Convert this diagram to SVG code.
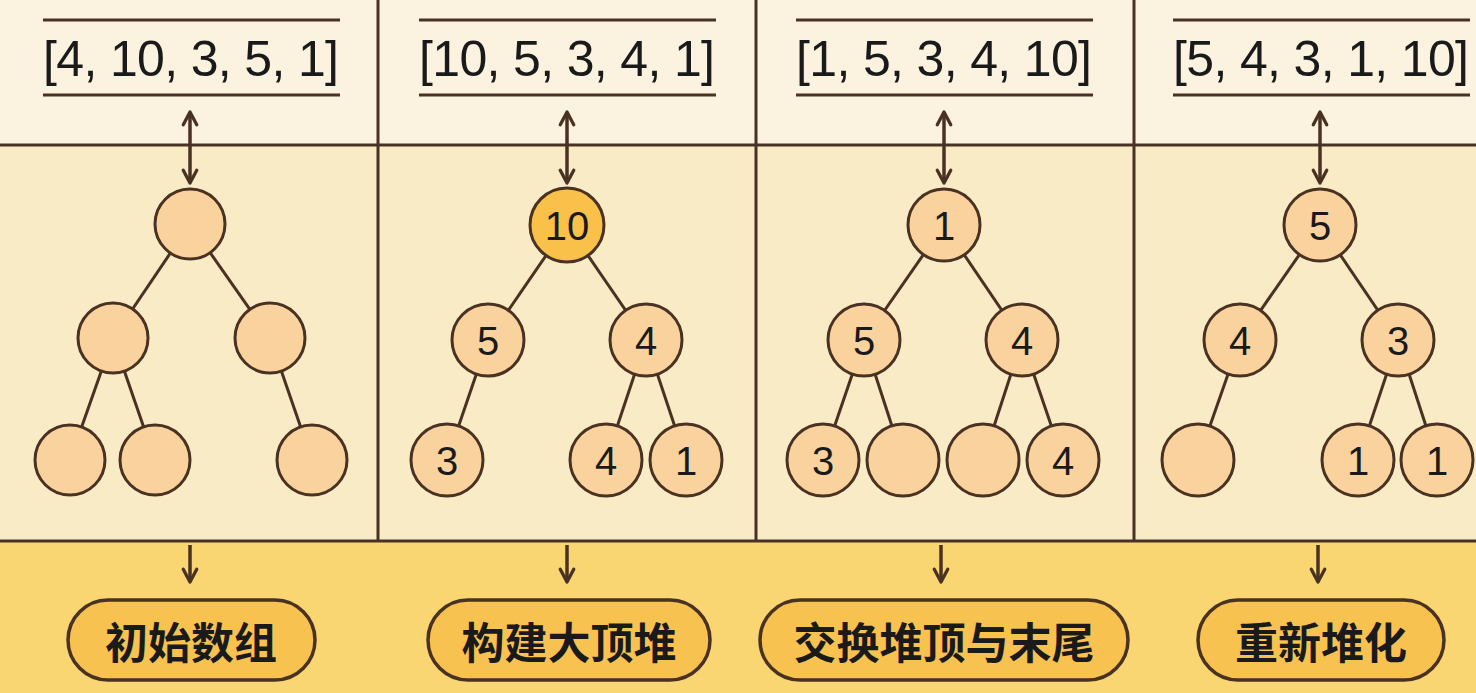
<svg xmlns="http://www.w3.org/2000/svg" width="1476" height="693" viewBox="0 0 1476 693">
<defs>
<marker id="ah" viewBox="0 0 12 12" refX="10" refY="6" markerWidth="18" markerHeight="18" markerUnits="userSpaceOnUse" orient="auto-start-reverse"><path d="M1.5,1.5 L10,6 L1.5,10.5" fill="none" stroke="#4a3222" stroke-width="2.2" stroke-linecap="round" stroke-linejoin="round"/></marker>
</defs>
<style>
.ln{stroke:#4a3222;stroke-width:3;fill:none}
.ar{stroke:#4a3222;stroke-width:3.5;fill:none;marker-end:url(#ah)}
.da{stroke:#4a3222;stroke-width:3.5;fill:none;marker-end:url(#ah);marker-start:url(#ah)}
.n{fill:#f9d29e;stroke:#4a3222;stroke-width:3}
.top{fill:#f9c04a;stroke:#4a3222;stroke-width:3}
.t{font-family:"Liberation Sans","Noto Sans",sans-serif;font-size:40px;fill:#1a1a1a;text-anchor:middle;dominant-baseline:central}
.arr{font-family:"Liberation Sans","Noto Sans",sans-serif;font-size:50px;fill:#1a1a1a;text-anchor:middle}
.pill{fill:#f8c250;stroke:#4a3222;stroke-width:3.5}
.pt{font-family:"Noto Sans CJK SC",sans-serif;font-weight:bold;font-size:43px;fill:#1a1a1a;text-anchor:middle;dominant-baseline:central}
</style>
<rect x="0" y="0" width="1476" height="145" fill="#fbf3e0"/>
<rect x="0" y="145" width="1476" height="396" fill="#f8ebc6"/>
<rect x="0" y="541" width="1476" height="152" fill="#f9d672"/>
<g id="grid" class="ln">
<line x1="0" y1="145" x2="1476" y2="145"/><line x1="0" y1="541" x2="1476" y2="541"/>
<line x1="378" y1="0" x2="378" y2="541"/><line x1="756" y1="0" x2="756" y2="541"/><line x1="1134" y1="0" x2="1134" y2="541"/>
</g>
<g id="arrays">
<g class="ln"><line x1="43" y1="20" x2="340" y2="20"/><line x1="43" y1="95" x2="340" y2="95"/>
<line x1="419" y1="20" x2="716" y2="20"/><line x1="419" y1="95" x2="716" y2="95"/>
<line x1="796" y1="20" x2="1093" y2="20"/><line x1="796" y1="95" x2="1093" y2="95"/>
<line x1="1173" y1="20" x2="1470" y2="20"/><line x1="1173" y1="95" x2="1470" y2="95"/></g>
<text class="arr" x="191" y="76" textLength="296" lengthAdjust="spacing">[4, 10, 3, 5, 1]</text>
<text class="arr" x="567" y="76" textLength="296" lengthAdjust="spacing">[10, 5, 3, 4, 1]</text>
<text class="arr" x="944" y="76" textLength="296" lengthAdjust="spacing">[1, 5, 3, 4, 10]</text>
<text class="arr" x="1321" y="76" textLength="296" lengthAdjust="spacing">[5, 4, 3, 1, 10]</text>
</g>
<g id="connectors">
<line class="da" x1="190" y1="112" x2="190" y2="183"/>
<line class="da" x1="567" y1="112" x2="567" y2="183"/>
<line class="da" x1="944" y1="112" x2="944" y2="183"/>
<line class="da" x1="1320" y1="112" x2="1320" y2="183"/>
<line class="ar" x1="190" y1="545" x2="190" y2="582"/>
<line class="ar" x1="567" y1="545" x2="567" y2="582"/>
<line class="ar" x1="941" y1="545" x2="941" y2="582"/>
<line class="ar" x1="1318" y1="545" x2="1318" y2="582"/>
<g class="ln">
<line x1="190" y1="224" x2="113" y2="338"/><line x1="190" y1="224" x2="270" y2="338"/>
<line x1="113" y1="338" x2="70" y2="460"/><line x1="113" y1="338" x2="155" y2="460"/><line x1="270" y1="338" x2="312" y2="460"/>
<line x1="567" y1="225" x2="488" y2="340"/><line x1="567" y1="225" x2="646" y2="340"/>
<line x1="488" y1="340" x2="447" y2="460"/><line x1="646" y1="340" x2="606" y2="460"/><line x1="646" y1="340" x2="686" y2="460"/>
<line x1="944" y1="225" x2="864" y2="340"/><line x1="944" y1="225" x2="1022" y2="340"/>
<line x1="864" y1="340" x2="823" y2="460"/><line x1="864" y1="340" x2="903" y2="460"/><line x1="1022" y1="340" x2="983" y2="460"/><line x1="1022" y1="340" x2="1063" y2="460"/>
<line x1="1320" y1="225" x2="1240" y2="340"/><line x1="1320" y1="225" x2="1398" y2="340"/>
<line x1="1240" y1="340" x2="1198" y2="460"/><line x1="1398" y1="340" x2="1358" y2="460"/><line x1="1398" y1="340" x2="1437" y2="460"/>
</g>
</g>
<g id="tree1">
<circle class="n" cx="190" cy="224" r="35"/><circle class="n" cx="113" cy="338" r="35"/><circle class="n" cx="270" cy="338" r="35"/>
<circle class="n" cx="70" cy="460" r="35"/><circle class="n" cx="155" cy="460" r="35"/><circle class="n" cx="312" cy="460" r="35"/>
</g>
<g id="tree2">
<circle class="top" cx="567" cy="225" r="37"/><text class="t" x="567" y="226">10</text>
<circle class="n" cx="488" cy="340" r="36"/><text class="t" x="488" y="341">5</text>
<circle class="n" cx="646" cy="340" r="36"/><text class="t" x="646" y="341">4</text>
<circle class="n" cx="447" cy="460" r="36"/><text class="t" x="447" y="461">3</text>
<circle class="n" cx="606" cy="460" r="36"/><text class="t" x="606" y="461">4</text>
<circle class="n" cx="686" cy="460" r="36"/><text class="t" x="686" y="461">1</text>
</g>
<g id="tree3">
<circle class="n" cx="944" cy="225" r="36"/><text class="t" x="944" y="226">1</text>
<circle class="n" cx="864" cy="340" r="36"/><text class="t" x="864" y="341">5</text>
<circle class="n" cx="1022" cy="340" r="36"/><text class="t" x="1022" y="341">4</text>
<circle class="n" cx="823" cy="460" r="36"/><text class="t" x="823" y="461">3</text>
<circle class="n" cx="903" cy="460" r="36"/>
<circle class="n" cx="983" cy="460" r="36"/>
<circle class="n" cx="1063" cy="460" r="36"/><text class="t" x="1063" y="461">4</text>
</g>
<g id="tree4">
<circle class="n" cx="1320" cy="225" r="36"/><text class="t" x="1320" y="226">5</text>
<circle class="n" cx="1240" cy="340" r="36"/><text class="t" x="1240" y="341">4</text>
<circle class="n" cx="1398" cy="340" r="36"/><text class="t" x="1398" y="341">3</text>
<circle class="n" cx="1198" cy="460" r="36"/>
<circle class="n" cx="1358" cy="460" r="36"/><text class="t" x="1358" y="461">1</text>
<circle class="n" cx="1437" cy="460" r="36"/><text class="t" x="1437" y="461">1</text>
</g>
<g id="label1"><rect class="pill" x="68" y="600" width="247" height="80" rx="40"/><text class="pt" x="191" y="640">初始数组</text></g>
<g id="label2"><rect class="pill" x="428" y="600" width="282" height="80" rx="40"/><text class="pt" x="569" y="640">构建大顶堆</text></g>
<g id="label3"><rect class="pill" x="760" y="600" width="368" height="80" rx="40"/><text class="pt" x="944" y="640">交换堆顶与末尾</text></g>
<g id="label4"><rect class="pill" x="1198" y="600" width="246" height="80" rx="40"/><text class="pt" x="1321" y="640">重新堆化</text></g>
</svg>
